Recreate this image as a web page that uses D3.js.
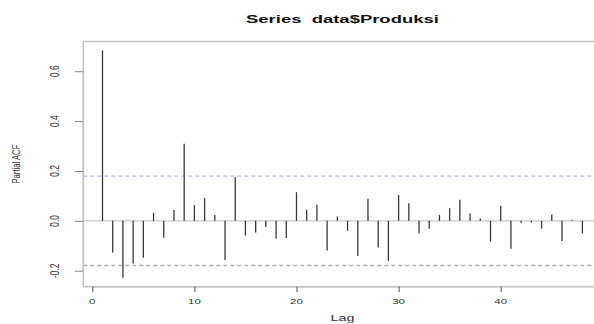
<!DOCTYPE html>
<html>
<head>
<meta charset="utf-8">
<script src="https://cdn.jsdelivr.net/npm/d3@7"></script>
<style>
  html, body { margin: 0; padding: 0; background: #fff; }
  svg { display: block; font-family: "Liberation Sans", Arial, Helvetica, sans-serif; }
</style>
</head>
<body>
<svg id="chart" width="594" height="324"></svg>
<script>
// ---- data ----
const lags = d3.range(1, 49);
const pacf = [
  0.683, -0.127, -0.228, -0.171, -0.148, 0.032, -0.068, 0.043, 0.309, 0.063,
  0.092, 0.023, -0.157, 0.176, -0.059, -0.047, -0.025, -0.071, -0.069, 0.115,
  0.044, 0.065, -0.119, 0.017, -0.040, -0.141, 0.089, -0.107, -0.161, 0.103,
  0.071, -0.051, -0.032, 0.024, 0.051, 0.085, 0.029, 0.009, -0.083, 0.061,
  -0.112, -0.008, -0.007, -0.031, 0.025, -0.081, 0.004, -0.051
];
const ciLimit = 0.179;
const xTicks = [0, 10, 20, 30, 40];
const yTicks = [-0.2, 0.0, 0.2, 0.4, 0.6];
const yTickLabels = ["-0.2", "0.0", "0.2", "0.4", "0.6"];
const titleText = "Series  data$Produksi";
const xLabel = "Lag";
const yLabel = "Partial ACF";

// ---- layout ----
const svg = d3.select("#chart");
const mLeft = 83.3, mRight = 601.6, mTop = 41.5, mBottom = 286.7;

const x = d3.scaleLinear().domain([-0.88, 49.88]).range([mLeft, mRight]);
const y = d3.scaleLinear().domain([-0.264, 0.719]).range([mBottom, mTop]);

// plot box
svg.append("rect")
  .attr("x", mLeft).attr("y", mTop)
  .attr("width", mRight - mLeft).attr("height", mBottom - mTop)
  .attr("fill", "none").attr("stroke", "#c4c4c4").attr("stroke-width", 1.6);

// zero line
svg.append("line")
  .attr("x1", mLeft).attr("x2", mRight)
  .attr("y1", y(0)).attr("y2", y(0))
  .attr("stroke", "#c8c8c8").attr("stroke-width", 1.4);

// confidence limits
svg.append("line")
  .attr("x1", mLeft).attr("x2", mRight)
  .attr("y1", y(ciLimit)).attr("y2", y(ciLimit))
  .attr("stroke", "#b8bcf0").attr("stroke-width", 1.3)
  .attr("stroke-dasharray", "4,3");
svg.append("line")
  .attr("x1", mLeft).attr("x2", mRight)
  .attr("y1", y(-ciLimit)).attr("y2", y(-ciLimit))
  .attr("stroke", "#b0b0c0").attr("stroke-width", 1.5)
  .attr("stroke-dasharray", "4,3");

// bars (spikes)
svg.append("g").selectAll("line")
  .data(lags.map((l, i) => ({ lag: l, v: pacf[i] })))
  .join("line")
  .attr("x1", d => x(d.lag)).attr("x2", d => x(d.lag))
  .attr("y1", y(0)).attr("y2", d => y(d.v))
  .attr("stroke", "#3a3a3a").attr("stroke-width", 1.3);

// x axis
const xAxis = d3.axisBottom(x).tickValues(xTicks).tickSize(5.5).tickFormat("");
const gx = svg.append("g").attr("transform", `translate(0,${mBottom})`).call(xAxis);
gx.select(".domain").attr("stroke", "#c4c4c4").attr("stroke-width", 1.4)
  .attr("d", `M${x(0)},0H${x(40)}`);
gx.selectAll(".tick line").attr("stroke", "#555").attr("stroke-width", 1);
svg.append("g").selectAll("text")
  .data(xTicks)
  .join("text")
  .attr("transform", d => `translate(${x(d)},301) scale(1.05,0.7)`)
  .attr("text-anchor", "middle").attr("dy", "0.35em")
  .attr("font-size", 11).attr("fill", "#333")
  .text(d => String(d));

// y axis
const yAxis = d3.axisLeft(y).tickValues(yTicks).tickSize(8.5).tickFormat("");
const gy = svg.append("g").attr("transform", `translate(${mLeft},0)`).call(yAxis);
gy.select(".domain").attr("stroke", "#c4c4c4").attr("stroke-width", 1.4)
  .attr("d", `M0,${y(-0.2)}V${y(0.6)}`);
gy.selectAll(".tick line").attr("stroke", "#888").attr("stroke-width", 1);
svg.append("g").selectAll("text")
  .data(yTicks)
  .join("text")
  .attr("transform", d => `translate(55,${y(d)}) rotate(-90) scale(0.7,1)`)
  .attr("text-anchor", "middle").attr("dy", "0.35em")
  .attr("font-size", 12).attr("fill", "#333")
  .text((d, i) => yTickLabels[i]);

// title
svg.append("text")
  .attr("transform", `translate(${(mLeft + mRight) / 2},23) scale(1.42,0.85)`)
  .attr("text-anchor", "middle")
  .style("white-space", "pre")
  .attr("font-size", 13).attr("font-weight", "bold").attr("fill", "#111")
  .text(titleText);

// x label
svg.append("text")
  .attr("transform", `translate(${(mLeft + mRight) / 2},320.5) scale(1.3,0.8)`)
  .attr("text-anchor", "middle")
  .attr("font-size", 11).attr("fill", "#333")
  .text(xLabel);

// y label
svg.append("text")
  .attr("transform", `translate(16,${(mTop + mBottom) / 2}) rotate(-90) scale(0.7,1)`)
  .attr("text-anchor", "middle").attr("dy", "0.35em")
  .attr("font-size", 11).attr("fill", "#333")
  .text(yLabel);
</script>
</body>
</html>
